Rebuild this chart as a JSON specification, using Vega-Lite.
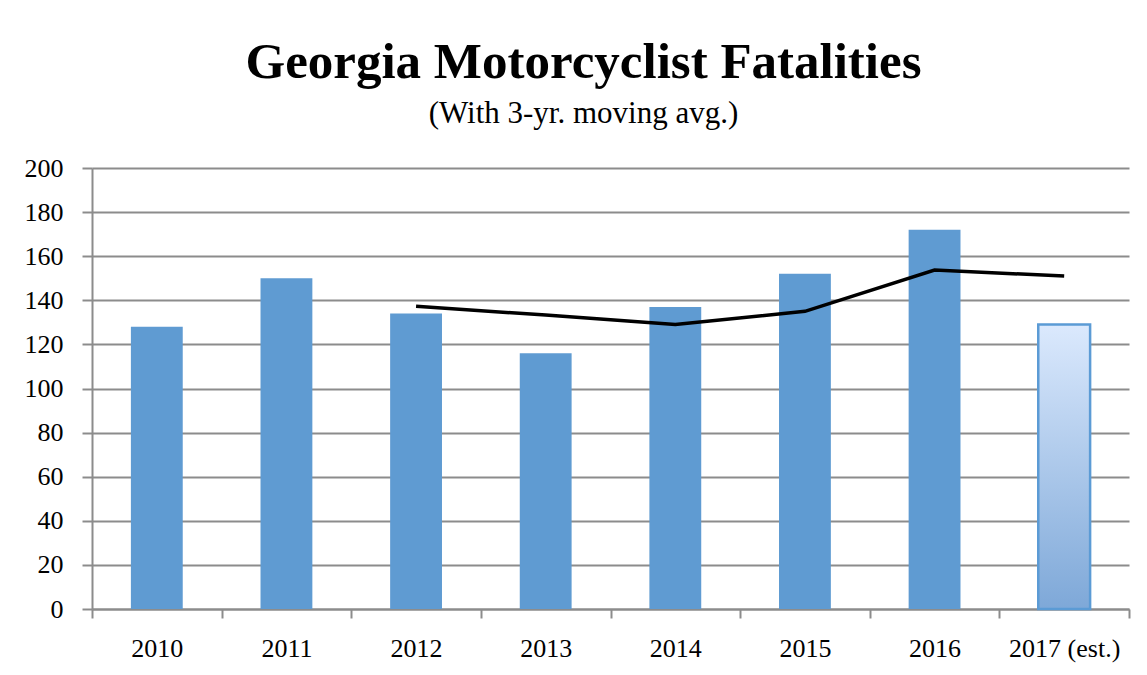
{
  "$schema": "https://vega.github.io/schema/vega-lite/v6.json",
  "autosize": "none",
  "width": 1037,
  "height": 441,
  "padding": {"left": 92, "top": 168, "right": 18, "bottom": 66},
  "background": "white",
  "title": {
    "text": "Georgia Motorcyclist Fatalities",
    "subtitle": "(With 3-yr. moving avg.)",
    "anchor": "middle",
    "frame": "group",
    "dx": -27,
    "offset": 25,
    "font": "Liberation Serif",
    "fontSize": 51,
    "fontWeight": "bold",
    "color": "black",
    "subtitleFont": "Liberation Serif",
    "subtitleFontSize": 31,
    "subtitleColor": "black",
    "subtitlePadding": 10
  },
  "config": {
    "view": {"stroke": null},
    "axis": {
      "labelFont": "Liberation Serif",
      "labelFontSize": 26,
      "labelColor": "black",
      "domainColor": "#8c8c8c",
      "domainWidth": 2,
      "tickColor": "#8c8c8c",
      "tickWidth": 2,
      "gridColor": "#8c8c8c",
      "gridWidth": 2
    }
  },
  "datasets": {
    "bars": [
      {"year": "2010", "fatalities": 128, "kind": "actual"},
      {"year": "2011", "fatalities": 150, "kind": "actual"},
      {"year": "2012", "fatalities": 134, "kind": "actual"},
      {"year": "2013", "fatalities": 116, "kind": "actual"},
      {"year": "2014", "fatalities": 137, "kind": "actual"},
      {"year": "2015", "fatalities": 152, "kind": "actual"},
      {"year": "2016", "fatalities": 172, "kind": "actual"},
      {"year": "2017 (est.)", "fatalities": 129, "kind": "estimate"}
    ],
    "avg": [
      {"year": "2012", "avg": 137.3},
      {"year": "2013", "avg": 133.3},
      {"year": "2014", "avg": 129},
      {"year": "2015", "avg": 135},
      {"year": "2016", "avg": 153.7},
      {"year": "2017 (est.)", "avg": 151}
    ]
  },
  "layer": [
    {
      "data": {"name": "bars"},
      "transform": [{"filter": "datum.kind === 'actual'"}],
      "mark": {"type": "bar", "width": {"band": 0.4}, "color": "#5f9bd2"},
      "encoding": {
        "x": {
          "field": "year", "type": "nominal", "sort": null,
          "scale": {"paddingInner": 0, "paddingOuter": 0,
            "domain": ["2010","2011","2012","2013","2014","2015","2016","2017 (est.)"]},
          "axis": {"title": null, "labelAngle": 0, "tickBand": "extent", "tickSize": 9, "labelPadding": 17, "grid": false,
            "labelFont": "Liberation Serif", "labelFontSize": 26}
        },
        "y": {
          "field": "fatalities", "type": "quantitative",
          "scale": {"domain": [0, 200], "nice": false},
          "axis": {"title": null, "values": [0,20,40,60,80,100,120,140,160,180,200], "tickSize": 10, "labelPadding": 19, "grid": true,
            "labelFont": "Liberation Serif", "labelFontSize": 26}
        }
      }
    },
    {
      "data": {"name": "bars"},
      "transform": [{"filter": "datum.kind === 'estimate'"}],
      "mark": {
        "type": "bar", "width": {"band": 0.4},
        "stroke": "#5b9bd5", "strokeWidth": 2.5,
        "color": {
          "gradient": "linear", "x1": 0, "y1": 0, "x2": 0, "y2": 1,
          "stops": [{"offset": 0, "color": "#dbe9fd"}, {"offset": 1, "color": "#7ea8d8"}]
        }
      },
      "encoding": {
        "x": {"field": "year", "type": "nominal", "sort": null},
        "y": {"field": "fatalities", "type": "quantitative"}
      }
    },
    {
      "data": {"name": "avg"},
      "mark": {"type": "line", "color": "black", "strokeWidth": 3.5},
      "encoding": {
        "x": {"field": "year", "type": "nominal", "sort": null},
        "y": {"field": "avg", "type": "quantitative"}
      }
    }
  ]
}
